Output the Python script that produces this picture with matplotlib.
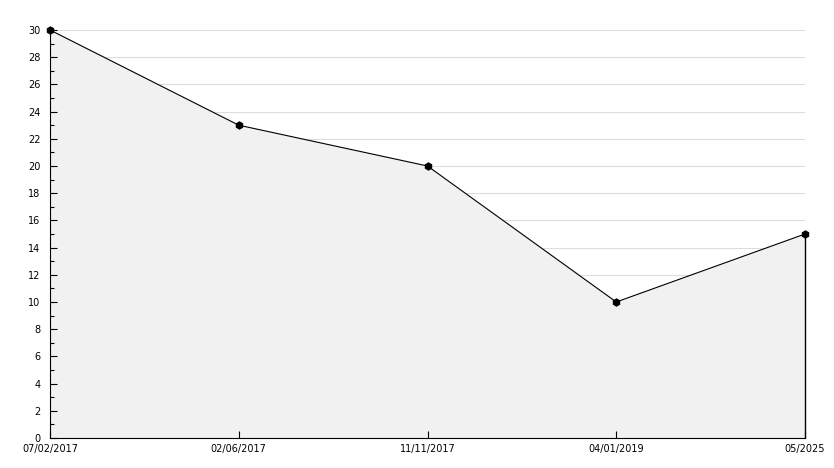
import matplotlib
matplotlib.use("Agg")
import matplotlib.pyplot as plt
from matplotlib.ticker import MultipleLocator

# chart data
labels = ["07/02/2017", "02/06/2017", "11/11/2017", "04/01/2019", "05/2025"]
values = [30, 23, 20, 10, 15]

fig = plt.figure(figsize=(8.34, 4.68), dpi=100)
ax = fig.add_axes([50 / 834, 30 / 468, 755 / 834, 408 / 468])

x = list(range(len(labels)))

# light grid lines every 2 units
for v in range(2, 31, 2):
    ax.axhline(v, color="#dddddd", linewidth=0.8, zorder=0)

ax.fill_between(x, values, 0, color="#f1f1f1", zorder=1)
ax.plot(x, values, color="black", linewidth=0.8, zorder=3, clip_on=False)
ax.plot(x, values, linestyle="none", marker="h", markersize=5,
        color="black", zorder=4, clip_on=False)
ax.vlines(x[-1], 0, values[-1], color="black", linewidth=1.0, zorder=3,
          clip_on=False)

ax.set_xlim(x[0], x[-1])
ax.set_ylim(0, 30)

ax.set_xticks(x)
ax.set_xticklabels(labels)
ax.yaxis.set_major_locator(MultipleLocator(2))
ax.yaxis.set_minor_locator(MultipleLocator(1))

ax.tick_params(axis="both", which="both", direction="in", labelsize=7,
               color="black", width=0.8)
ax.tick_params(axis="y", which="major", length=5, pad=7)
ax.tick_params(axis="y", which="minor", length=3)
ax.tick_params(axis="x", which="major", length=5, pad=4)

for side in ["top", "right"]:
    ax.spines[side].set_visible(False)
for side in ["left", "bottom"]:
    ax.spines[side].set_linewidth(0.8)

fig.savefig("out.png", dpi=100)
